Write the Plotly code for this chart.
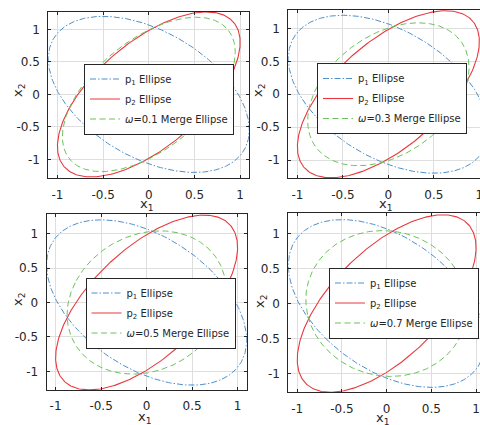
import numpy as np
import plotly.graph_objects as go

# Covariance matrices of the two estimates
P1 = [[1.21, -0.60], [-0.60, 1.44]]
P2 = [[1.00, 0.80], [0.80, 1.61]]
# Covariance-intersection weights, one per panel
omegas = [0.1, 0.3, 0.5, 0.7]
tick_vals = [-1, -0.5, 0, 0.5, 1]
tick_text = ["-1", "-0.5", "0", "0.5", "1"]

W, H = 480, 425
N_PTS = 361


def ellipse_xy(P):
    """Boundary of {x : x^T P^-1 x = 1}."""
    P = np.asarray(P, dtype=float)
    vals, vecs = np.linalg.eigh(P)
    t = np.linspace(0, 2 * np.pi, N_PTS)
    circ = np.vstack([np.cos(t), np.sin(t)])
    pts = vecs @ (np.sqrt(vals)[:, None] * circ)
    return pts[0], pts[1]


def merge(P1, P2, w):
    A = np.linalg.inv(np.asarray(P1, float))
    B = np.linalg.inv(np.asarray(P2, float))
    return np.linalg.inv(w * A + (1 - w) * B)


# Panel placement in pixels: (x0, x1, y_top, y_bottom, xmax, ymin, ymax)
panels = [
    (48.3, 249.3, 11.5, 178.3, 1.10, -1.29, 1.275),
    (288.3, 480.0, 10.0, 178.3, 1.007, -1.277, 1.28),
    (46.5, 246.7, 214.3, 390.0, 1.10, -1.27, 1.28),
    (288.3, 480.0, 213.3, 392.3, 1.044, -1.27, 1.29),
]
legend_pos = [(84.0, 63.5), (317.0, 63.0), (85.5, 277.5), (329.0, 267.5)]
# axis-title centres in pixels: (x1 label x, y), (x2 label x, y)
xtitle_pos = [(147, 204), (386, 204), (145, 417), (383, 418)]
ytitle_pos = [(18, 90), (258, 90), (18, 299), (260, 301)]

BLUE = "#4f8fcb"
RED = "#e8383d"
GREEN = "#6cc25a"
AXC = "#262626"
GRID = "#dedede"
FONT = "DejaVu Sans, Verdana, sans-serif"

fig = go.Figure()
x1, y1 = ellipse_xy(P1)
x2, y2 = ellipse_xy(P2)

layout = dict(
    width=W, height=H, margin=dict(l=0, r=0, t=0, b=0, autoexpand=False),
    paper_bgcolor="white", plot_bgcolor="white",
    font=dict(family=FONT, size=12, color=AXC),
)
annotations = []

for i, w in enumerate(omegas):
    k = "" if i == 0 else str(i + 1)
    xa, ya = "x" + k, "y" + k
    leg = "legend" + k
    xm, ym = ellipse_xy(merge(P1, P2, w))
    fig.add_trace(go.Scatter(x=x1, y=y1, mode="lines", xaxis=xa, yaxis=ya,
                             line=dict(color=BLUE, width=1, dash="6px,2px,1.5px,2px"),
                             name="p<sub>1</sub> Ellipse", legend=leg,
                             legendgroup=f"p1_{i}"))
    fig.add_trace(go.Scatter(x=x2, y=y2, mode="lines", xaxis=xa, yaxis=ya,
                             line=dict(color=RED, width=1.1),
                             name="p<sub>2</sub> Ellipse", legend=leg,
                             legendgroup=f"p2_{i}"))
    fig.add_trace(go.Scatter(x=xm, y=ym, mode="lines", xaxis=xa, yaxis=ya,
                             line=dict(color=GREEN, width=1, dash="6px,3.5px"),
                             name=f"<i>ω</i>={w:g} Merge Ellipse", legend=leg,
                             legendgroup=f"m_{i}"))

    px0, px1, pyt, pyb, xmax, ymin, ymax = panels[i]
    right_col = i % 2 == 1
    common = dict(
        showline=True, linecolor=AXC, linewidth=1,
        showgrid=True, gridcolor=GRID, gridwidth=1,
        zeroline=False, ticks="inside", ticklen=3, tickcolor=AXC,
        tickvals=tick_vals, ticktext=tick_text,
        tickfont=dict(size=12, color=AXC, family=FONT),
        ticklabeloverflow="allow", automargin=False,
    )
    layout["xaxis" + k] = dict(
        common, domain=[px0 / W, px1 / W], range=[-1.1, xmax],
        anchor=ya, mirror="ticks", ticklabelstandoff=5,
    )
    layout["yaxis" + k] = dict(
        common, domain=[1 - pyb / H, 1 - pyt / H], range=[ymin, ymax],
        anchor=xa, mirror=False if right_col else "ticks", ticklabelstandoff=5,
    )
    lx, ly = legend_pos[i]
    layout[leg] = dict(
        x=lx / W, y=1 - ly / H, xanchor="left", yanchor="top",
        xref="paper", yref="paper",
        bgcolor="white", bordercolor=AXC, borderwidth=1,
        font=dict(size=10, color=AXC, family=FONT),
        tracegroupgap=1, itemwidth=30, groupclick="toggleitem",
    )

    tx, ty = xtitle_pos[i]
    annotations.append(dict(
        text="x<sub>1</sub>", x=tx / W, y=1 - ty / H, xref="paper", yref="paper",
        xanchor="center", yanchor="middle", showarrow=False,
        font=dict(size=13, color=AXC, family=FONT),
    ))
    tx, ty = ytitle_pos[i]
    annotations.append(dict(
        text="x<sub>2</sub>", x=tx / W, y=1 - ty / H, xref="paper", yref="paper",
        xanchor="center", yanchor="middle", showarrow=False, textangle=-90,
        font=dict(size=13, color=AXC, family=FONT),
    ))

layout["annotations"] = annotations
fig.update_layout(**layout)
fig.write_html("out.html")
